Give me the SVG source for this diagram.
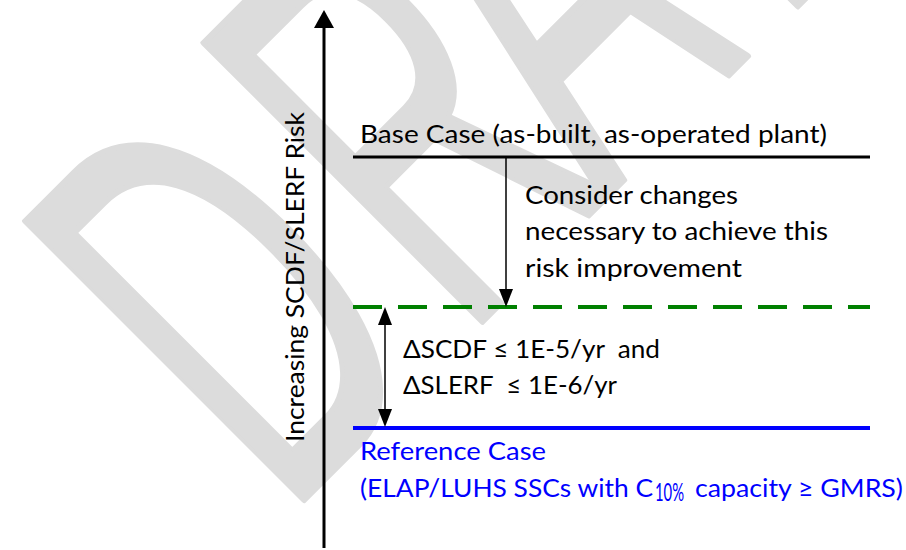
<svg xmlns="http://www.w3.org/2000/svg" width="906" height="550" viewBox="0 0 906 550">
  <style>
    .t { font-family: Lato, "Liberation Sans", Arial, sans-serif; font-size: 25.5px; fill: #000; }
    .blue { fill: #0000ff; }
    .wm { font-family: "Liberation Sans", Arial, sans-serif; font-size: 573px; fill: #dcdcdc; stroke: #dcdcdc; stroke-width: 6; stroke-linejoin: round; }
  </style>
  <defs>
    <marker id="axisHead" markerUnits="userSpaceOnUse" viewBox="0 0 18 20" refX="0" refY="10" markerWidth="18" markerHeight="20" orient="auto">
      <path d="M0,0 L18,10 L0,20 z" fill="#000"/>
    </marker>
    <marker id="head" markerUnits="userSpaceOnUse" viewBox="0 0 18 14" refX="0" refY="7" markerWidth="18" markerHeight="14" orient="auto-start-reverse">
      <path d="M0,0 L18,7 L0,14 z" fill="#000"/>
    </marker>
  </defs>

  <rect x="0" y="0" width="906" height="550" fill="#ffffff"/>

  <g id="watermark" transform="translate(302,502) rotate(-45) scale(0.54,1)">
    <text class="wm" x="-44 423 789 1249 1650" y="0">DRAFT</text>
  </g>

  <g id="axis-label">
    <text class="t" transform="translate(304,442) rotate(-90)" x="0" y="0" font-size="25" textLength="330" lengthAdjust="spacingAndGlyphs">Increasing SCDF/SLERF Risk</text>
  </g>

  <g id="base-case">
    <line x1="353" y1="157" x2="870" y2="157" stroke="#000" stroke-width="3"/>
    <text class="t" x="360" y="143" textLength="467" lengthAdjust="spacingAndGlyphs">Base Case (as-built, as-operated plant)</text>
  </g>

  <g id="target-level">
    <line x1="353" y1="307" x2="870" y2="307" stroke="#008000" stroke-width="4" stroke-dasharray="29 16"/>
  </g>

  <g id="reference-case">
    <line x1="353" y1="428" x2="870" y2="428" stroke="#0000ff" stroke-width="4"/>
    <text class="t blue" x="360" y="460" textLength="186" lengthAdjust="spacingAndGlyphs">Reference Case</text>
    <text class="t blue" x="360" y="497" textLength="293" lengthAdjust="spacingAndGlyphs">(ELAP/LUHS SSCs with C</text>
    <text class="t blue" x="655" y="501" font-size="16" textLength="29" lengthAdjust="spacingAndGlyphs">10%</text>
    <text class="t blue" x="695" y="497" textLength="208" lengthAdjust="spacingAndGlyphs">capacity ≥ GMRS)</text>
  </g>

  <g id="improvement-label">
    <text class="t" x="525" y="204" textLength="213" lengthAdjust="spacingAndGlyphs">Consider changes</text>
    <text class="t" x="525" y="240" textLength="303" lengthAdjust="spacingAndGlyphs">necessary to achieve this</text>
    <text class="t" x="525" y="277" textLength="217" lengthAdjust="spacingAndGlyphs">risk improvement</text>
  </g>

  <g id="delta-label">
    <text class="t" x="403" y="358" textLength="257" lengthAdjust="spacingAndGlyphs">ΔSCDF ≤ 1E-5/yr&#160; and</text>
    <text class="t" x="403" y="394" textLength="214" lengthAdjust="spacingAndGlyphs">ΔSLERF&#160; ≤ 1E-6/yr</text>
  </g>

  <g id="connectors">
    <line x1="324" y1="548" x2="324" y2="28" stroke="#000" stroke-width="3" marker-end="url(#axisHead)"/>
    <line x1="506" y1="158" x2="506" y2="289" stroke="#000" stroke-width="1.5" marker-end="url(#head)"/>
    <line x1="385" y1="325" x2="385" y2="409" stroke="#000" stroke-width="1.5" marker-start="url(#head)" marker-end="url(#head)"/>
  </g>
</svg>
